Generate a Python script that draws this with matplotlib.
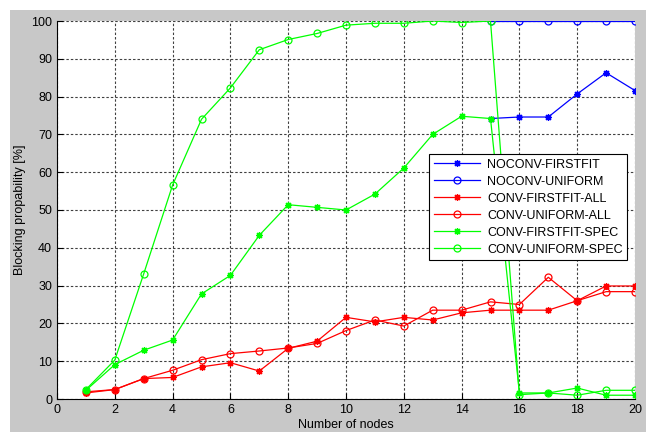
import numpy as np
import matplotlib.pyplot as plt
from matplotlib.patches import Rectangle

plt.rcParams['font.family'] = ['Liberation Sans', 'DejaVu Sans']

nodes = np.arange(1, 21)
noconv_nodes = np.arange(15, 21)

noconv_firstfit = [74.2, 74.6, 74.6, 80.7, 86.3, 81.6]
noconv_uniform = [100, 100, 100, 100, 100, 100]

conv_firstfit_all = [1.6, 2.5, 5.4, 5.7, 8.5, 9.6, 7.4, 13.4, 15.3, 21.6,
                     20.4, 21.6, 20.9, 22.8, 23.5, 23.5, 23.5, 26.0, 29.9, 29.9]
conv_uniform_all = [1.9, 2.5, 5.4, 7.6, 10.4, 12.0, 12.7, 13.5, 14.7, 18.1,
                    20.9, 19.3, 23.5, 23.5, 25.7, 25.0, 32.2, 26.0, 28.4, 28.4]
conv_firstfit_spec = [2.3, 9.1, 12.9, 15.6, 27.8, 32.7, 43.3, 51.4, 50.7, 50.0,
                      54.2, 61.1, 70.0, 74.8, 74.2, 1.6, 1.6, 2.9, 1.0, 1.0]
conv_uniform_spec = [2.5, 10.3, 33.1, 56.6, 74.0, 82.3, 92.4, 95.1, 96.7, 98.9,
                     99.4, 99.4, 100, 99.6, 100, 1.15, 1.6, 1.0, 2.3, 2.3]

fig = plt.figure(figsize=(6.46, 4.32), dpi=100, facecolor='white')
fig.patches.append(Rectangle((10 / 646, 0), 1, 1 - 10 / 432, transform=fig.transFigure,
                             facecolor='#c8c8c8', edgecolor='none', zorder=-10))
ax = fig.add_axes([57 / 646, 33 / 432, 578 / 646, 378 / 432])
ax.set_facecolor('white')

star = (8, 2, 0)
kw = dict(lw=0.9, markersize=5, mew=0.9)
ax.plot(noconv_nodes, noconv_firstfit, color='blue', marker=star, label='NOCONV-FIRSTFIT', **kw)
ax.plot(noconv_nodes, noconv_uniform, color='blue', marker='o', mfc='none', label='NOCONV-UNIFORM', **kw)
ax.plot(nodes, conv_firstfit_all, color='red', marker=star, label='CONV-FIRSTFIT-ALL', **kw)
ax.plot(nodes, conv_uniform_all, color='red', marker='o', mfc='none', label='CONV-UNIFORM-ALL', **kw)
ax.plot(nodes, conv_firstfit_spec, color='#00ff00', marker=star, label='CONV-FIRSTFIT-SPEC', **kw)
ax.plot(nodes, conv_uniform_spec, color='#00ff00', marker='o', mfc='none', label='CONV-UNIFORM-SPEC', **kw)

ax.set_xlim(0, 20)
ax.set_ylim(0, 100)
ax.set_xticks(np.arange(0, 21, 2))
ax.set_yticks(np.arange(0, 101, 10))
ax.grid(True, color='#404040', lw=0.8, linestyle=(0, (2.2, 1.8)))
ax.set_axisbelow(True)
for s in ['top', 'right']:
    ax.spines[s].set_visible(False)
ax.tick_params(direction='in', length=4, labelsize=9, colors='black')
ax.set_xlabel('Number of nodes', fontsize=9, labelpad=2)
ax.set_ylabel('Blocking propability [%]', fontsize=9, labelpad=4)

leg = ax.legend(loc='upper left', bbox_to_anchor=(0.644, 0.647), fontsize=9,
                frameon=True, fancybox=False, borderpad=0.35, labelspacing=0.4,
                handlelength=3.7, handletextpad=0.6, borderaxespad=0)
leg.get_frame().set_edgecolor('black')
leg.get_frame().set_linewidth(0.8)
leg.get_frame().set_alpha(1)

fig.savefig('out.png', dpi=100, facecolor=fig.get_facecolor())
